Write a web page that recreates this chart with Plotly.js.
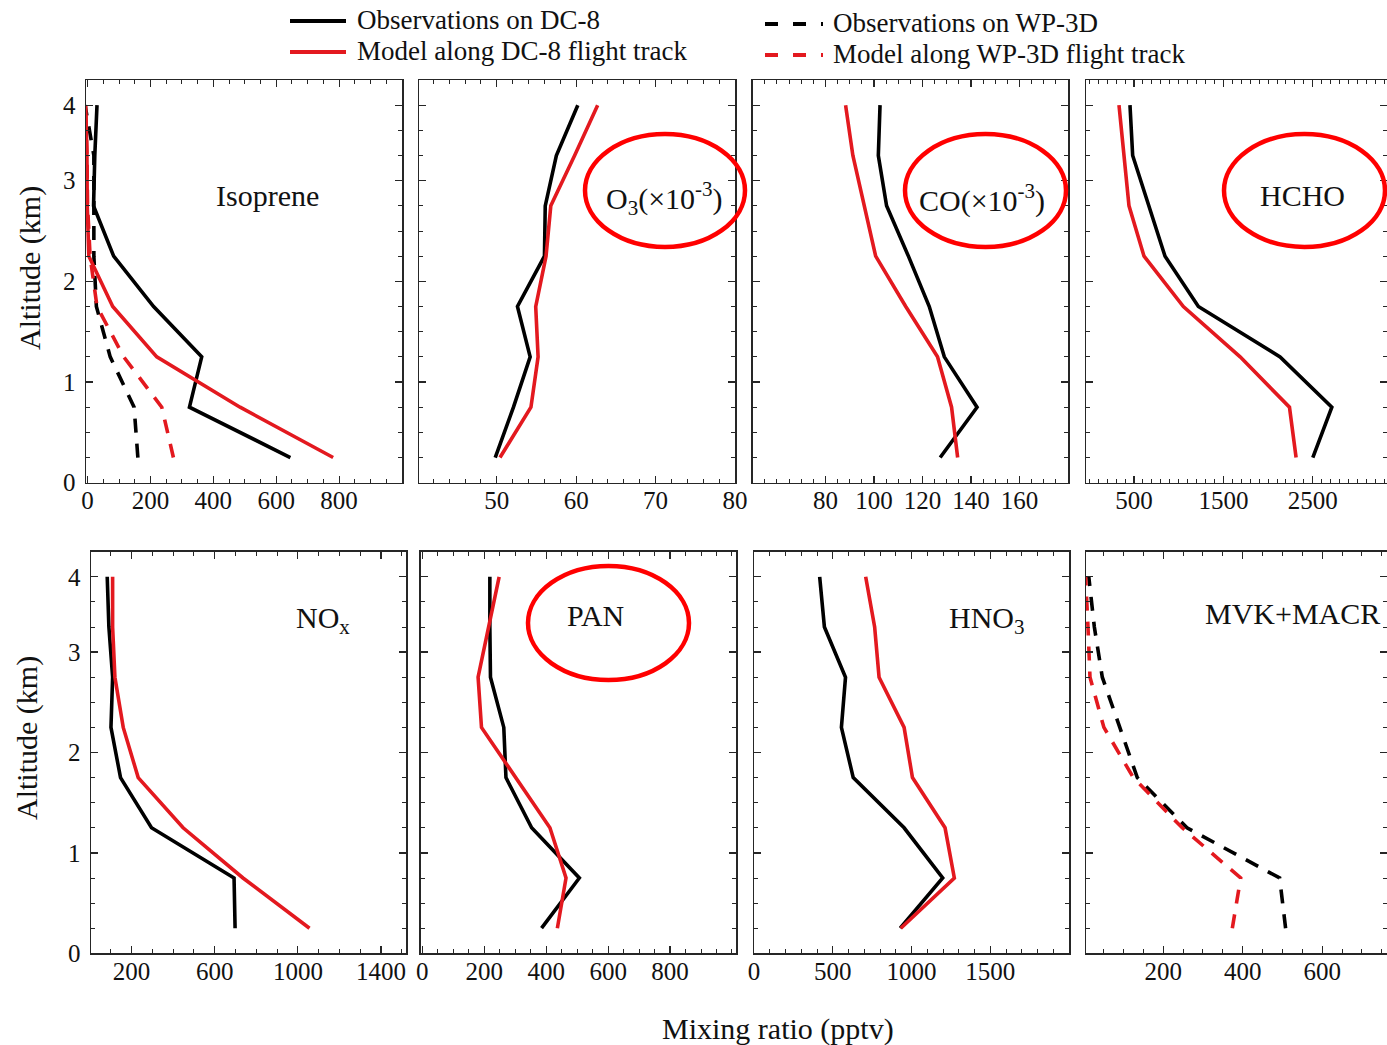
<!DOCTYPE html>
<html>
<head>
<meta charset="utf-8">
<script src="https://cdn.plot.ly/plotly-3.0.1.min.js"></script>
<style>html,body{margin:0;padding:0;background:#fff;}#chart{width:1387px;height:1045px;}</style>
</head>
<body>
<div id="chart"></div>
<script>
// ---- data (altitude bins, km; bottom to top) ----
const altitude = [0.25, 0.75, 1.25, 1.75, 2.25, 2.75, 3.25, 3.75];
const yTickVals = [0, 1, 2, 3, 3.75];
const yTickText = ['0', '1', '2', '3', '4'];

const isopreneObsDC8    = [645, 324, 363, 210, 83, 19, 23, 30];
const isopreneModelDC8  = [781, 485, 220, 80, 4, -1, -2, -6];
const isopreneObsWP3D   = [160, 148, 72, 28, 20, 20, 20, -8];
const isopreneModelWP3D = [273, 236, 115, 30, 8, 0, -2, -6];

const o3ObsDC8   = [49.8, 52.1, 54.2, 52.6, 56.0, 56.1, 57.5, 60.2];
const o3ModelDC8 = [50.4, 54.3, 55.2, 54.9, 56.2, 56.8, 59.8, 62.7];

const coObsDC8   = [127.3, 142.5, 129.0, 122.8, 114.2, 105.2, 101.8, 102.5];
const coModelDC8 = [134.5, 132.0, 126.2, 113.1, 100.7, 96.0, 91.3, 88.3];

const hchoObsDC8   = [2500, 2713, 2134, 1220, 847, 664, 485, 455];
const hchoModelDC8 = [2313, 2239, 1687, 1052, 612, 444, 388, 332];

const noxObsDC8   = [698, 693, 296, 147, 101, 109, 91, 83];
const noxModelDC8 = [1056, 736, 448, 232, 160, 120, 109, 109];

const panObsDC8   = [385, 507, 353, 270, 263, 220, 218, 218];
const panModelDC8 = [436, 464, 412, 301, 191, 180, 213, 248];

const hno3ObsDC8   = [928, 1198, 953, 630, 555, 581, 447, 417];
const hno3ModelDC8 = [932, 1272, 1213, 1006, 953, 794, 766, 709];

const mvkObsWP3D   = [508, 493, 260, 135, 91, 47, 27, 13];
const mvkModelWP3D = [374, 395, 248, 125, 51, 16, 11, 5];

const legendLabels = ['Observations on DC-8', 'Model along DC-8 flight track',
                      'Observations on WP-3D', 'Model along WP-3D flight track'];

// ---- styling ----
const BLACK = '#000000';
const RED = '#e3191f';
const ELLIPSE = '#ff0000';
const FONT = 'Liberation Serif, Times New Roman, serif';
const W = 1387, H = 1045;
const LW = 3.6;
const DASH = '14px,11px';

function px(x) { return x / W; }
function py(y) { return 1 - y / H; }

const traces = [];
function addLine(xs, ax, color, dashed, name) {
  traces.push({
    x: xs, y: altitude, type: 'scatter', mode: 'lines', name: name,
    xaxis: 'x' + (ax === 1 ? '' : ax), yaxis: 'y' + (ax === 1 ? '' : ax),
    line: {color: color, width: LW, dash: dashed ? DASH : 'solid'},
    showlegend: false, hoverinfo: 'skip'
  });
}
// panel 1: isoprene
addLine(isopreneObsWP3D, 1, BLACK, true, legendLabels[2]);
addLine(isopreneModelWP3D, 1, RED, true, legendLabels[3]);
addLine(isopreneObsDC8, 1, BLACK, false, legendLabels[0]);
addLine(isopreneModelDC8, 1, RED, false, legendLabels[1]);
// panel 2: O3
addLine(o3ObsDC8, 2, BLACK, false, legendLabels[0]);
addLine(o3ModelDC8, 2, RED, false, legendLabels[1]);
// panel 3: CO
addLine(coObsDC8, 3, BLACK, false, legendLabels[0]);
addLine(coModelDC8, 3, RED, false, legendLabels[1]);
// panel 4: HCHO
addLine(hchoObsDC8, 4, BLACK, false, legendLabels[0]);
addLine(hchoModelDC8, 4, RED, false, legendLabels[1]);
// panel 5: NOx
addLine(noxObsDC8, 5, BLACK, false, legendLabels[0]);
addLine(noxModelDC8, 5, RED, false, legendLabels[1]);
// panel 6: PAN
addLine(panObsDC8, 6, BLACK, false, legendLabels[0]);
addLine(panModelDC8, 6, RED, false, legendLabels[1]);
// panel 7: HNO3
addLine(hno3ObsDC8, 7, BLACK, false, legendLabels[0]);
addLine(hno3ModelDC8, 7, RED, false, legendLabels[1]);
// panel 8: MVK+MACR
addLine(mvkObsWP3D, 8, BLACK, true, legendLabels[2]);
addLine(mvkModelWP3D, 8, RED, true, legendLabels[3]);

const AXC = '#262626';
function xAxis(domainPx, range, tickvals, minorDtick, anchor) {
  return {
    domain: [px(domainPx[0]), px(domainPx[1])], range: range, anchor: anchor,
    tickmode: 'array', tickvals: tickvals, ticktext: tickvals.map(String),
    showline: true, linecolor: AXC, linewidth: 1.5, mirror: 'allticks',
    ticks: 'inside', ticklen: 7, tickwidth: 1.2, tickcolor: AXC,
    minor: {ticks: 'inside', ticklen: 4, tickwidth: 1, tickcolor: AXC, tick0: 0, dtick: minorDtick, showgrid: false},
    showgrid: false, zeroline: false, fixedrange: true,
    tickfont: {family: FONT, size: 25, color: '#111'}, ticklabelstandoff: -5
  };
}
function yAxis(domainPy, anchor, showLabels) {
  return {
    domain: [py(domainPy[1]), py(domainPy[0])], range: [0, 4], anchor: anchor,
    tickmode: 'array', tickvals: yTickVals, ticktext: yTickText,
    showticklabels: showLabels,
    showline: true, linecolor: AXC, linewidth: 1.5, mirror: 'allticks',
    ticks: 'inside', ticklen: 7, tickwidth: 1.2, tickcolor: AXC,
    minor: {ticks: 'inside', ticklen: 4, tickwidth: 1, tickcolor: AXC, tick0: 0, dtick: 0.25, showgrid: false},
    showgrid: false, zeroline: false, fixedrange: true,
    tickfont: {family: FONT, size: 25, color: '#111'}, ticklabelstandoff: 4
  };
}

const topY = [80, 482.7], botY = [551.7, 953.3];

const layout = {
  width: W, height: H, margin: {l: 0, r: 0, t: 0, b: 0},
  paper_bgcolor: '#fff', plot_bgcolor: '#fff', showlegend: false,
  font: {family: FONT, color: '#111'},
  xaxis:  xAxis([86, 402],     [-5, 1000],   [0, 200, 400, 600, 800], 50, 'y'),
  yaxis:  yAxis(topY, 'x', true),
  xaxis2: xAxis([419, 735],    [40.2, 80],   [50, 60, 70, 80], 2, 'y2'),
  yaxis2: yAxis(topY, 'x2', false),
  xaxis3: xAxis([752.7, 1068], [50, 180],    [80, 100, 120, 140, 160], 5, 'y3'),
  yaxis3: yAxis(topY, 'x3', false),
  xaxis4: xAxis([1086, 1387],  [-37, 3330],  [500, 1500, 2500], 100, 'y4'),
  yaxis4: yAxis(topY, 'x4', false),
  xaxis5: xAxis([91, 406],     [5, 1520],    [200, 600, 1000, 1400], 100, 'y5'),
  yaxis5: yAxis(botY, 'x5', true),
  xaxis6: xAxis([420.5, 736],  [-6, 1013],   [0, 200, 400, 600, 800], 50, 'y6'),
  yaxis6: yAxis(botY, 'x6', false),
  xaxis7: xAxis([754, 1069],   [0, 2000],    [0, 500, 1000, 1500], 100, 'y7'),
  yaxis7: yAxis(botY, 'x7', false),
  xaxis8: xAxis([1086, 1387],  [6, 763],     [200, 400, 600], 50, 'y8'),
  yaxis8: yAxis(botY, 'x8', false),
  annotations: [],
  shapes: []
};

function note(text, x, y, size, opts) {
  layout.annotations.push(Object.assign({
    text: text, x: px(x), y: py(y), xref: 'paper', yref: 'paper',
    showarrow: false, xanchor: 'center', yanchor: 'middle',
    font: {family: FONT, size: size, color: '#111'}
  }, opts || {}));
}
// panel labels
note('Isoprene', 267, 196, 30);
note('O<sub>3</sub>(×10<sup>-3</sup>)', 664, 198, 30);
note('CO(×10<sup>-3</sup>)', 982, 198, 30);
note('HCHO', 1302, 196, 30);
note('NO<sub>x</sub>', 323, 620, 30);
note('PAN', 595, 615, 30);
note('HNO<sub>3</sub>', 987, 620, 30);
note('MVK+MACR', 1203, 613, 30, {xanchor: 'left'});
// axis titles
note('Altitude (km)', 30, 268, 30, {textangle: -90});
note('Altitude (km)', 27, 738, 30, {textangle: -90});
note('Mixing ratio (pptv)', 778, 1029, 30);

// legend (manual, top)
function legendEntry(x0, x1, y, color, dashed, label, tx) {
  layout.shapes.push({type: 'line', xref: 'paper', yref: 'paper',
    x0: px(x0), x1: px(x1), y0: py(y), y1: py(y),
    line: {color: color, width: 4, dash: dashed ? '13px,15px' : 'solid'}});
  note(label, tx, y - 1, 27, {xanchor: 'left'});
}
legendEntry(290, 346, 21, BLACK, false, legendLabels[0], 355);
legendEntry(290, 346, 52, RED, false, legendLabels[1], 355);
legendEntry(765, 823, 24, BLACK, true, legendLabels[2], 831);
legendEntry(765, 823, 55, RED, true, legendLabels[3], 831);

// highlight ellipses
function ellipse(x0, y0, x1, y1) {
  layout.shapes.push({type: 'circle', xref: 'paper', yref: 'paper',
    x0: px(x0), x1: px(x1), y0: py(y1), y1: py(y0),
    line: {color: ELLIPSE, width: 4.5}, fillcolor: 'rgba(0,0,0,0)'});
}
ellipse(585, 134, 745, 247);
ellipse(905, 134, 1066, 247);
ellipse(1224, 134, 1385, 247);
ellipse(528, 566, 689, 680);

Plotly.newPlot('chart', traces, layout, {staticPlot: true, displayModeBar: false});
</script>
</body>
</html>
